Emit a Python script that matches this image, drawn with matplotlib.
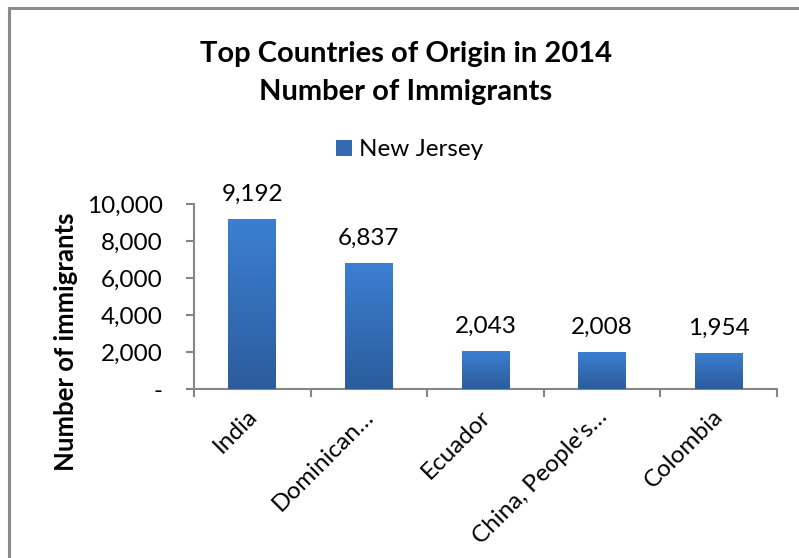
import matplotlib
matplotlib.use("Agg")

import matplotlib.pyplot as plt
import numpy as np
from matplotlib.colors import LinearSegmentedColormap
from matplotlib.lines import Line2D
from matplotlib.patches import Patch
from matplotlib.ticker import FuncFormatter
from matplotlib.transforms import ScaledTranslation


countries = ["India", "Dominican\u2026", "Ecuador", "China, People's\u2026", "Colombia"]
immigrants = [9192, 6837, 2043, 2008, 1954]
series_name = "New Jersey"
title_lines = ["Top Countries of Origin in 2014", "Number of Immigrants"]
y_label = "Number of immigrants"
y_ticks = [0, 2000, 4000, 6000, 8000, 10000]

FONT = "Lato"
W, H = 799, 558

plt.rcParams["font.family"] = [FONT, "DejaVu Sans"]


def fx(px):
    return px / W


def fy(py):
    return 1 - py / H


def y_fmt(v, pos):
    if v == 0:
        return "-"
    return f"{int(v):,}"


fig = plt.figure(figsize=(W / 100, H / 100), dpi=100)
fig.patch.set_facecolor("white")

# borde del grafico (solo arriba e izquierda se ven)
fig.add_artist(Line2D([fx(9), fx(9)], [fy(8), 0], transform=fig.transFigure,
                      color="#8c8c8c", lw=2.2))
fig.add_artist(Line2D([fx(9), 1], [fy(8), fy(8)], transform=fig.transFigure,
                      color="#8c8c8c", lw=2.2))

ax = fig.add_axes([fx(194), fy(389), fx(777) - fx(194), fy(204) - fy(389)])

x = np.arange(len(countries))
bars = ax.bar(x, immigrants, width=0.41, color="#3669b3", zorder=2)

# degradado vertical de cada barra
grad_cmap = LinearSegmentedColormap.from_list("barra", ["#2c5c9c", "#3b7fd2"])
grad = np.linspace(0, 1, 256).reshape(-1, 1)
for b in bars:
    x0, y0 = b.get_x(), b.get_y()
    im = ax.imshow(grad, cmap=grad_cmap, origin="lower", aspect="auto",
                   extent=[x0, x0 + b.get_width(), y0, y0 + b.get_height()],
                   zorder=3)
    im.set_clip_path(b)

for b, v in zip(bars, immigrants):
    ax.annotate(f"{v:,}", (b.get_x() + b.get_width() / 2, v),
                xytext=(0, 13), textcoords="offset points",
                ha="center", va="baseline", fontsize=17.5)

ax.set_xlim(-0.5, len(countries) - 0.5)
ax.set_ylim(0, 10000)

ax.set_yticks(y_ticks)
ax.yaxis.set_major_formatter(FuncFormatter(y_fmt))
ax.tick_params(axis="y", length=5.5, width=1.5, color="#868686",
               labelsize=17.5, pad=17)

ax.set_xticks(x)
ax.set_xticklabels(countries, rotation=45, ha="right", rotation_mode="anchor",
                   fontsize=17.5)
ax.set_xticks(np.arange(len(countries) + 1) - 0.5, minor=True)
ax.tick_params(axis="x", which="major", length=0, pad=12)
ax.tick_params(axis="x", which="minor", length=6, width=1.5, color="#868686")

# correr un poco las etiquetas hacia la izquierda
shift = ScaledTranslation(-6 / 100, 0, fig.dpi_scale_trans)
for lbl in ax.get_xticklabels():
    lbl.set_transform(lbl.get_transform() + shift)

for side in ["top", "right"]:
    ax.spines[side].set_visible(False)
for side in ["left", "bottom"]:
    ax.spines[side].set_color("#868686")
    ax.spines[side].set_linewidth(1.5)

fig.text(fx(406), fy(62), title_lines[0], ha="center", va="baseline",
         fontsize=21, fontweight="bold")
fig.text(fx(406), fy(100), title_lines[1], ha="center", va="baseline",
         fontsize=21, fontweight="bold")

fig.text(fx(66), fy(342), y_label, rotation=90, ha="center", va="center",
         fontsize=18.5, fontweight="bold")

fig.legend(handles=[Patch(facecolor="#3669b3", label=series_name)],
           loc="center", bbox_to_anchor=(fx(410), fy(150)), frameon=False,
           fontsize=17.5, handlelength=0.65, handleheight=0.65, handletextpad=0.3)

fig.savefig("out.png", dpi=100)
plt.close(fig)
